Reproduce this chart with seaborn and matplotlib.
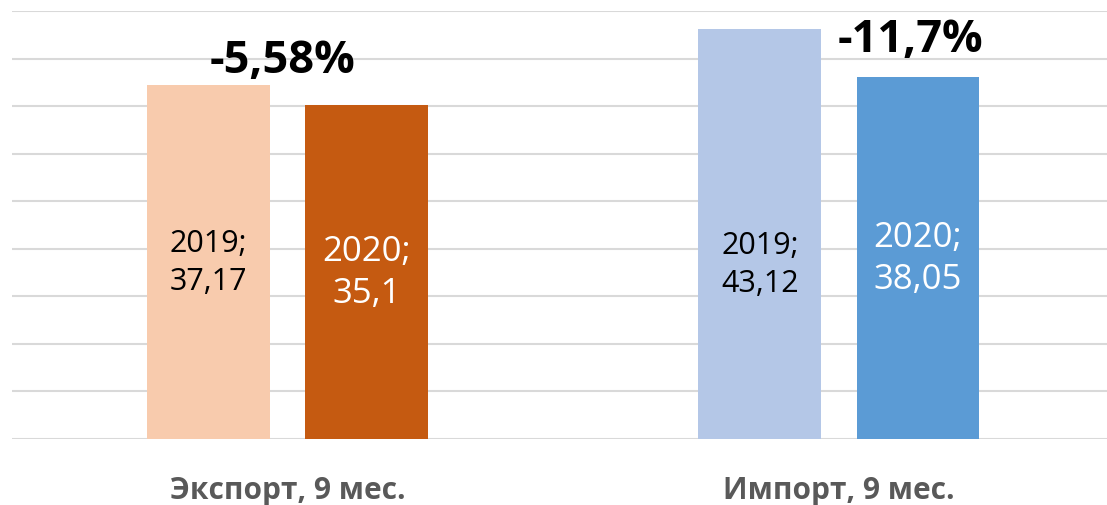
import pandas as pd
import numpy as np
import matplotlib
matplotlib.use('Agg')
import matplotlib.pyplot as plt
import seaborn as sns

# data (bln USD, 9 months)
categories = ['Экспорт, 9 мес.', 'Импорт, 9 мес.']
years = ['2019', '2020']
values_2019 = [37.17, 43.12]
values_2020 = [35.1, 38.05]
value_labels_2019 = ['37,17', '43,12']
value_labels_2020 = ['35,1', '38,05']
change_labels = ['-5,58%', '-11,7%']

colors_2019 = ['#F8CBAD', '#B4C7E7']
colors_2020 = ['#C55A11', '#5B9BD5']

df = pd.DataFrame({
    'category': categories * 2,
    'year': [years[0]] * 2 + [years[1]] * 2,
    'value': values_2019 + values_2020,
})

sns.set_theme(style='white')
plt.rcParams['font.family'] = ['Open Sans', 'DejaVu Sans']

fig = plt.figure(figsize=(11.07, 5.06), dpi=100)
ax = fig.add_axes([12 / 1107, 66 / 506, 1102.5 / 1107, 428 / 506])

sns.barplot(data=df, x='category', y='value', hue='year',
            order=categories, hue_order=years,
            width=0.574, gap=0.223, legend=False, ax=ax, zorder=2)

# recolor each bar separately (colors differ by category and year)
for bar, c in zip(ax.containers[0], colors_2019):
    bar.set_facecolor(c)
    bar.set_edgecolor('none')
for bar, c in zip(ax.containers[1], colors_2020):
    bar.set_facecolor(c)
    bar.set_edgecolor('none')

# value labels inside bars
label_shift = [[0, -3.2], [0, 0]]  # small manual nudges like in the original
for i, (bar, lab) in enumerate(zip(ax.containers[0], value_labels_2019)):
    cx = bar.get_x() + bar.get_width() / 2
    cy = bar.get_height() / 2 + label_shift[0][i]
    ax.text(cx, cy, f'2019;\n{lab}', ha='center', va='center',
            fontsize=22, color='black', linespacing=1.35, zorder=3)
for i, (bar, lab) in enumerate(zip(ax.containers[1], value_labels_2020)):
    cx = bar.get_x() + bar.get_width() / 2
    cy = bar.get_height() / 2 + label_shift[1][i]
    ax.text(cx, cy, f'2020;\n{lab}', ha='center', va='center',
            fontsize=25, color='white', linespacing=1.3, zorder=3)

# percentage change annotations
ax.text(-0.01, 39.8, change_labels[0], ha='center', va='center',
        fontsize=32.5, fontweight='bold', color='black', zorder=3)
ax.text(1.13, 42.0, change_labels[1], ha='center', va='center',
        fontsize=32.5, fontweight='bold', color='black', zorder=3)

ax.set_ylim(0, 45)
ax.set_xlim(-0.5, 1.5)
ax.set_yticks(np.arange(0, 46, 5))
ax.yaxis.grid(True, color='#D9D9D9', linewidth=1.5, zorder=0)
ax.set_axisbelow(True)
ax.tick_params(axis='y', left=False, labelleft=False)
ax.tick_params(axis='x', length=0, pad=26, labelsize=21.5, labelcolor='#595959')
for t in ax.get_xticklabels():
    t.set_fontweight('bold')
ax.set_xlabel('')
ax.set_ylabel('')
for s in ax.spines.values():
    s.set_visible(False)

fig.savefig('out.png', dpi=100)
